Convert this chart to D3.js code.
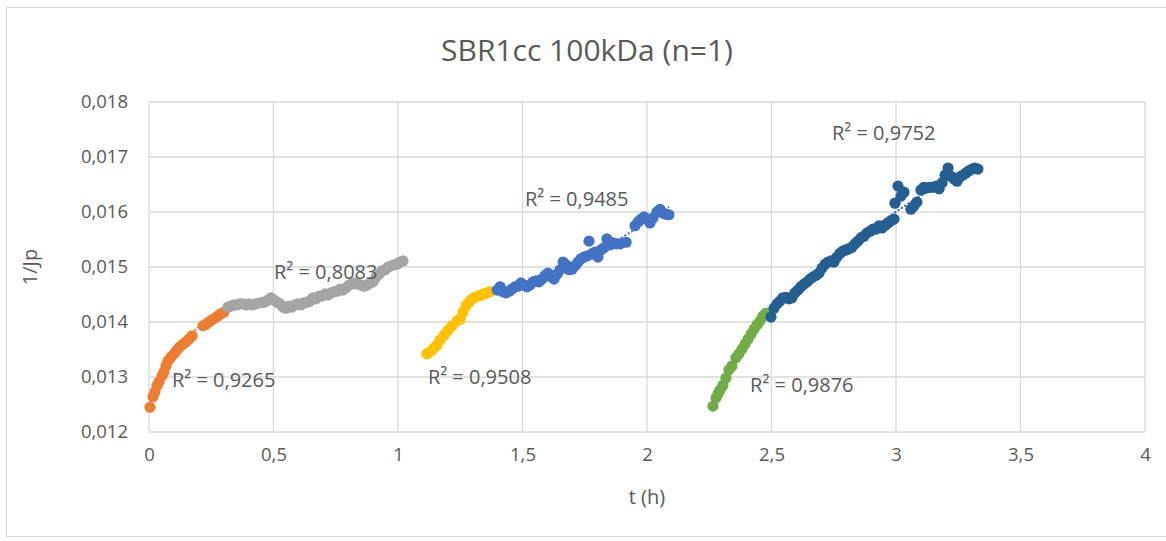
<!DOCTYPE html>
<html>
<head>
<meta charset="utf-8">
<script src="https://cdn.jsdelivr.net/npm/d3@7"></script>
<style>
    body { margin: 0; background: #fff; }
    text { font-family: "Open Sans", "Noto Sans", sans-serif; fill: #595959; }
    .grid line { stroke: #d9d9d9; stroke-width: 1.3; }
    .axis path, .axis line { display: none; }
    .axis text { font-size: 18.5px; fill: #595959; }
</style>
</head>
<body>
<svg id="chart" width="1166" height="541"></svg>
<script>
// data: [t (h), 1/Jp]
var orange = [[0.004,0.01245],[0.016,0.01264],[0.024,0.01273],[0.032,0.01284],[0.040,0.01291],[0.052,0.01302],
    [0.060,0.01309],[0.068,0.01320],[0.076,0.01329],[0.088,0.01336],[0.100,0.01342],[0.112,0.01349],[0.124,0.01355],
    [0.137,0.01360],[0.149,0.01364],[0.161,0.01369],[0.173,0.01375],[0.217,0.01393],[0.229,0.01396],[0.241,0.01400],
    [0.253,0.01404],[0.265,0.01407],[0.277,0.01411],[0.289,0.01415],[0.301,0.01418]];
var grey = [[0.317,0.01427],[0.329,0.01429],[0.341,0.01431],[0.353,0.01431],[0.365,0.01433],[0.378,0.01433],
    [0.390,0.01431],[0.402,0.01433],[0.414,0.01431],[0.430,0.01433],[0.446,0.01435],[0.462,0.01436],[0.478,0.01440],
    [0.490,0.01444],[0.502,0.01440],[0.514,0.01436],[0.526,0.01433],[0.538,0.01427],[0.550,0.01425],[0.562,0.01429],
    [0.574,0.01427],[0.586,0.01431],[0.598,0.01433],[0.610,0.01431],[0.622,0.01435],[0.635,0.01436],[0.647,0.01438],
    [0.659,0.01444],[0.671,0.01442],[0.683,0.01447],[0.695,0.01447],[0.707,0.01451],[0.719,0.01449],[0.731,0.01453],
    [0.743,0.01455],[0.755,0.01456],[0.767,0.01460],[0.779,0.01458],[0.791,0.01462],[0.803,0.01467],[0.815,0.01469],
    [0.827,0.01471],[0.839,0.01469],[0.851,0.01467],[0.863,0.01465],[0.876,0.01467],[0.888,0.01471],[0.900,0.01473],
    [0.912,0.01482],[0.924,0.01487],[0.936,0.01493],[0.948,0.01495],[0.960,0.01500],[0.972,0.01502],[0.984,0.01504],
    [0.996,0.01505],[1.008,0.01509],[1.020,0.01511]];
var yellow = [[1.116,0.01342],[1.133,0.01347],[1.145,0.01353],[1.157,0.01358],[1.169,0.01367],[1.185,0.01376],
    [1.201,0.01385],[1.217,0.01393],[1.237,0.01402],[1.249,0.01405],[1.261,0.01418],[1.273,0.01429],[1.285,0.01436],
    [1.297,0.01442],[1.309,0.01445],[1.321,0.01447],[1.333,0.01449],[1.345,0.01451],[1.357,0.01453],[1.369,0.01455]];
var blue = [[1.398,0.01458],[1.410,0.01464],[1.422,0.01455],[1.434,0.01453],[1.446,0.01456],[1.458,0.01460],
    [1.470,0.01464],[1.482,0.01465],[1.494,0.01471],[1.506,0.01467],[1.518,0.01464],[1.530,0.01467],[1.542,0.01473],
    [1.554,0.01475],[1.566,0.01473],[1.578,0.01478],[1.590,0.01484],[1.602,0.01489],[1.614,0.01482],[1.627,0.01478],
    [1.639,0.01487],[1.651,0.01495],[1.663,0.01509],[1.675,0.01504],[1.687,0.01495],[1.699,0.01496],[1.711,0.01502],
    [1.723,0.01509],[1.735,0.01515],[1.747,0.01518],[1.759,0.01520],[1.767,0.01547],[1.779,0.01524],[1.791,0.01527],
    [1.803,0.01518],[1.815,0.01531],[1.827,0.01535],[1.839,0.01551],[1.851,0.01540],[1.863,0.01544],[1.876,0.01542],
    [1.892,0.01542],[1.916,0.01545],[1.952,0.01575],[1.964,0.01582],[1.976,0.01587],[1.988,0.01591],[2.000,0.01587],
    [2.012,0.01580],[2.024,0.01589],[2.040,0.01600],[2.052,0.01605],[2.064,0.01598],[2.076,0.01596],[2.088,0.01595]];
var green = [[2.265,0.01247],[2.277,0.01262],[2.285,0.01269],[2.293,0.01276],[2.305,0.01285],[2.317,0.01298],
    [2.329,0.01313],[2.341,0.01320],[2.357,0.01335],[2.369,0.01342],[2.382,0.01351],[2.394,0.01360],[2.406,0.01369],
    [2.418,0.01378],[2.430,0.01387],[2.442,0.01395],[2.454,0.01402],[2.466,0.01411],[2.478,0.01416]];
var darkBlue = [[2.498,0.01409],[2.510,0.01425],[2.522,0.01433],[2.534,0.01438],[2.546,0.01444],[2.558,0.01445],
    [2.570,0.01442],[2.582,0.01444],[2.594,0.01453],[2.606,0.01458],[2.618,0.01464],[2.631,0.01469],[2.643,0.01473],
    [2.655,0.01478],[2.667,0.01482],[2.679,0.01485],[2.691,0.01489],[2.703,0.01498],[2.715,0.01505],[2.727,0.01509],
    [2.739,0.01511],[2.751,0.01509],[2.763,0.01518],[2.775,0.01525],[2.787,0.01529],[2.799,0.01531],[2.811,0.01533],
    [2.823,0.01536],[2.835,0.01542],[2.847,0.01547],[2.859,0.01553],[2.871,0.01556],[2.884,0.01562],[2.896,0.01565],
    [2.908,0.01569],[2.920,0.01569],[2.932,0.01575],[2.944,0.01571],[2.956,0.01576],[2.968,0.01580],[2.980,0.01584],
    [2.992,0.01587],[2.996,0.01616],[3.008,0.01647],[3.020,0.01629],[3.032,0.01636],[3.060,0.01605],[3.072,0.01611],
    [3.084,0.01618],[3.100,0.01640],[3.112,0.01645],[3.124,0.01644],[3.137,0.01645],[3.149,0.01645],[3.161,0.01647],
    [3.173,0.01642],[3.185,0.01653],[3.197,0.01667],[3.209,0.01680],[3.221,0.01665],[3.233,0.01660],[3.245,0.01656],
    [3.257,0.01664],[3.269,0.01667],[3.281,0.01671],[3.293,0.01675],[3.305,0.01678],[3.317,0.01680],[3.329,0.01678]];

var seriesData = [orange, grey, yellow, blue, green, darkBlue];
var seriesColors = ["#ED7D31", "#A5A5A5", "#FFC000", "#4472C4", "#70AD47", "#255E91"];
var r2Texts = ["R² = 0,9265", "R² = 0,8083", "R² = 0,9508", "R² = 0,9485", "R² = 0,9876", "R² = 0,9752"];
// anchor of each R² label (left edge, middle), in data units
var r2Anchor = [[0.092,0.01295],[0.502,0.01491],[1.120,0.01300],[1.510,0.01624],[2.414,0.01285],[2.743,0.01744]];

var xTicks = [0, 0.5, 1, 1.5, 2, 2.5, 3, 3.5, 4];
var yTicks = [0.012, 0.013, 0.014, 0.015, 0.016, 0.017, 0.018];
var title = "SBR1cc 100kDa (n=1)";
var xTitle = "t (h)";
var yTitle = "1/Jp";

var loc = d3.formatLocale({decimal: ",", thousands: ".", grouping: [3], currency: ["", "€"]});
var fmtY = loc.format(".3f");
var fmtX = loc.format("~g");

function polyFit(pts) {
    // 2nd order least squares, like the excel trendline
    var s = [0, 0, 0, 0, 0], t = [0, 0, 0];
    var x0 = d3.mean(pts, function (d) { return d[0]; });
    pts.forEach(function (p) {
        var x = p[0] - x0;
        for (var k = 0; k < 5; k++) s[k] += Math.pow(x, k);
        for (k = 0; k < 3; k++) t[k] += p[1] * Math.pow(x, k);
    });
    var A = [[s[0], s[1], s[2], t[0]], [s[1], s[2], s[3], t[1]], [s[2], s[3], s[4], t[2]]];
    for (var i = 0; i < 3; i++) {
        for (var j = i + 1; j < 3; j++) {
            var f = A[j][i] / A[i][i];
            for (var c = i; c < 4; c++) A[j][c] -= f * A[i][c];
        }
    }
    var b = [0, 0, 0];
    for (i = 2; i >= 0; i--) {
        var sum = A[i][3];
        for (j = i + 1; j < 3; j++) sum -= A[i][j] * b[j];
        b[i] = sum / A[i][i];
    }
    return function (x) { var u = x - x0; return b[0] + b[1] * u + b[2] * u * u; };
}

var svg = d3.select("#chart");
var width = 1166, height = 541;
var pad_left = 149, pad_right = 21, pad_top = 102, pad_bot = 109;

svg.append("rect")
        .attr("x", 6.5).attr("y", 7.5)
        .attr("width", width + 10).attr("height", height - 12)
        .attr("fill", "#fff").attr("stroke", "#d9d9d9");

var x = d3.scaleLinear().domain([0, 4]).range([pad_left, width - pad_right]);
var y = d3.scaleLinear().domain([0.012, 0.018]).range([height - pad_bot, pad_top]);

svg.append("g").attr("class", "grid")
        .selectAll("line").data(yTicks).enter().append("line")
        .attr("x1", x(0)).attr("x2", x(4))
        .attr("y1", function (d) { return y(d); }).attr("y2", function (d) { return y(d); });
svg.append("g").attr("class", "grid")
        .selectAll("line").data(xTicks).enter().append("line")
        .attr("y1", y(0.012)).attr("y2", y(0.018))
        .attr("x1", function (d) { return x(d); }).attr("x2", function (d) { return x(d); });

svg.append("g").attr("class", "axis")
        .attr("transform", "translate(" + (pad_left - 15) + ",0)")
        .call(d3.axisLeft(y).tickValues(yTicks).tickFormat(fmtY).tickSize(0).tickPadding(6));
svg.append("g").attr("class", "axis")
        .attr("transform", "translate(0," + (height - pad_bot + 16) + ")")
        .call(d3.axisBottom(x).tickValues(xTicks).tickFormat(fmtX).tickSize(0).tickPadding(0));

// trendlines first, markers on top
seriesData.forEach(function (pts, i) {
    var fit = polyFit(pts);
    var ext = d3.extent(pts, function (d) { return d[0]; });
    var xs = d3.range(40).map(function (k) { return ext[0] + (ext[1] - ext[0]) * k / 39; });
    var line = d3.line().x(function (d) { return x(d); }).y(function (d) { return y(fit(d)); });
    svg.append("path")
            .datum(xs)
            .attr("d", line)
            .attr("fill", "none")
            .attr("stroke", seriesColors[i])
            .attr("stroke-width", 2)
            .attr("stroke-dasharray", "2,2");
});

seriesData.forEach(function (pts, i) {
    svg.append("g").selectAll("circle").data(pts).enter().append("circle")
            .attr("cx", function (d) { return x(d[0]); })
            .attr("cy", function (d) { return y(d[1]); })
            .attr("r", 5.6)
            .attr("fill", seriesColors[i]);
});

svg.append("g").selectAll("text").data(r2Texts).enter().append("text")
        .attr("x", function (d, i) { return x(r2Anchor[i][0]); })
        .attr("y", function (d, i) { return y(r2Anchor[i][1]); })
        .attr("dy", "0.35em")
        .style("font-size", "20px")
        .text(function (d) { return d; });

svg.append("text")
        .attr("x", 587).attr("y", 61)
        .attr("text-anchor", "middle")
        .style("font-size", "30px")
        .text(title);
svg.append("text")
        .attr("x", x(2)).attr("y", 504)
        .attr("text-anchor", "middle")
        .style("font-size", "20px")
        .text(xTitle);
svg.append("text")
        .attr("transform", "translate(37," + y(0.015) + ") rotate(-90)")
        .attr("text-anchor", "middle")
        .style("font-size", "20px")
        .text(yTitle);
</script>
</body>
</html>
